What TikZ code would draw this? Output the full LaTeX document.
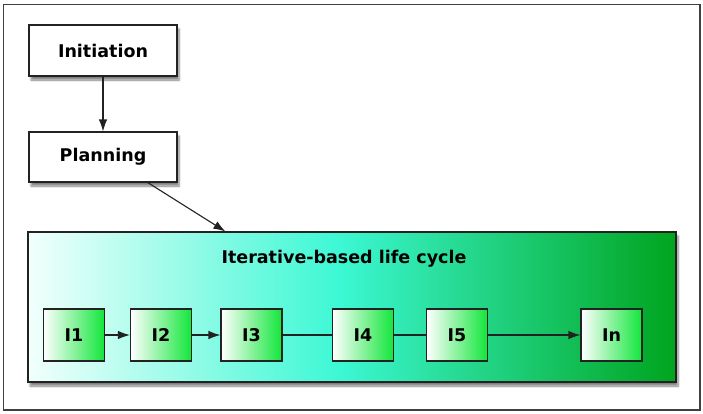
\documentclass[tikz,border=0pt]{standalone}
\usepackage{fontspec}
\setmainfont{DejaVu Sans}
\usetikzlibrary{shadows.blur,arrows.meta,calc}
\definecolor{aquamid}{HTML}{3CF8D4}
\definecolor{darkgr}{HTML}{00A41E}
\definecolor{lightl}{HTML}{F2FFFC}
\definecolor{boxgreen}{HTML}{12E63A}
\definecolor{edge}{HTML}{222222}
\pgfdeclarehorizontalshading{lifecycle}{100bp}{color(0bp)=(lightl); color(25bp)=(lightl); color(49bp)=(aquamid); color(75bp)=(darkgr); color(100bp)=(darkgr)}
\begin{document}
\begin{tikzpicture}[x=1pt,y=-1pt,
  txt/.style={font=\fontsize{17.5}{20}\selectfont\bfseries, text=black},
  phase/.style={txt, draw=edge, line width=1.1pt, fill=white, minimum width=148pt, minimum height=51pt, inner sep=0pt,
    blur shadow={shadow xshift=2pt, shadow yshift=-4pt, shadow blur steps=6, shadow opacity=50}},
  iter/.style={txt, draw=edge, line width=1.1pt, left color=white, right color=boxgreen, minimum width=61pt, minimum height=52pt, inner sep=0pt},
  conn/.style={line width=1.1pt, draw=edge},
  arr/.style={conn, -{Latex[length=12pt,width=8.5pt]}}]
\useasboundingbox (0,0) rectangle (703,413);
\draw[line width=1.4pt, draw=black!75] (3.5,4.5) rectangle (700,410);
\node[phase] (init) at (103,50.5) {Initiation};
\node[phase, minimum height=50pt] (plan) at (103,157) {Planning};
\node[draw=edge, line width=1.1pt, shading=lifecycle, shading angle=0, minimum width=648pt, minimum height=150pt, inner sep=0pt,
  blur shadow={shadow xshift=2pt, shadow yshift=-4pt, shadow blur steps=6, shadow opacity=50}] (life) at (352,307) {};
\node[txt] (title) at (344,259) {Iterative-based life cycle};
\node[iter] (i1) at (74,335) {I1};
\node[iter] (i2) at (161,335) {I2};
\node[iter] (i3) at (251.5,335) {I3};
\node[iter] (i4) at (363,335) {I4};
\node[iter] (i5) at (457,335) {I5};
\node[iter] (in) at (611.5,335) {In};
\draw[arr] (init) -- (plan);
\draw[arr] ($(plan.south)!0.6!(plan.south east)$) -- ($(life.north west)!0.305!(life.north east)$);
\draw[arr] (i1) -- (i2);
\draw[arr] (i2) -- (i3);
\draw[conn] (i3) -- (i4);
\draw[conn] (i4) -- (i5);
\draw[arr] (i5) -- (in);
\end{tikzpicture}
\end{document}
